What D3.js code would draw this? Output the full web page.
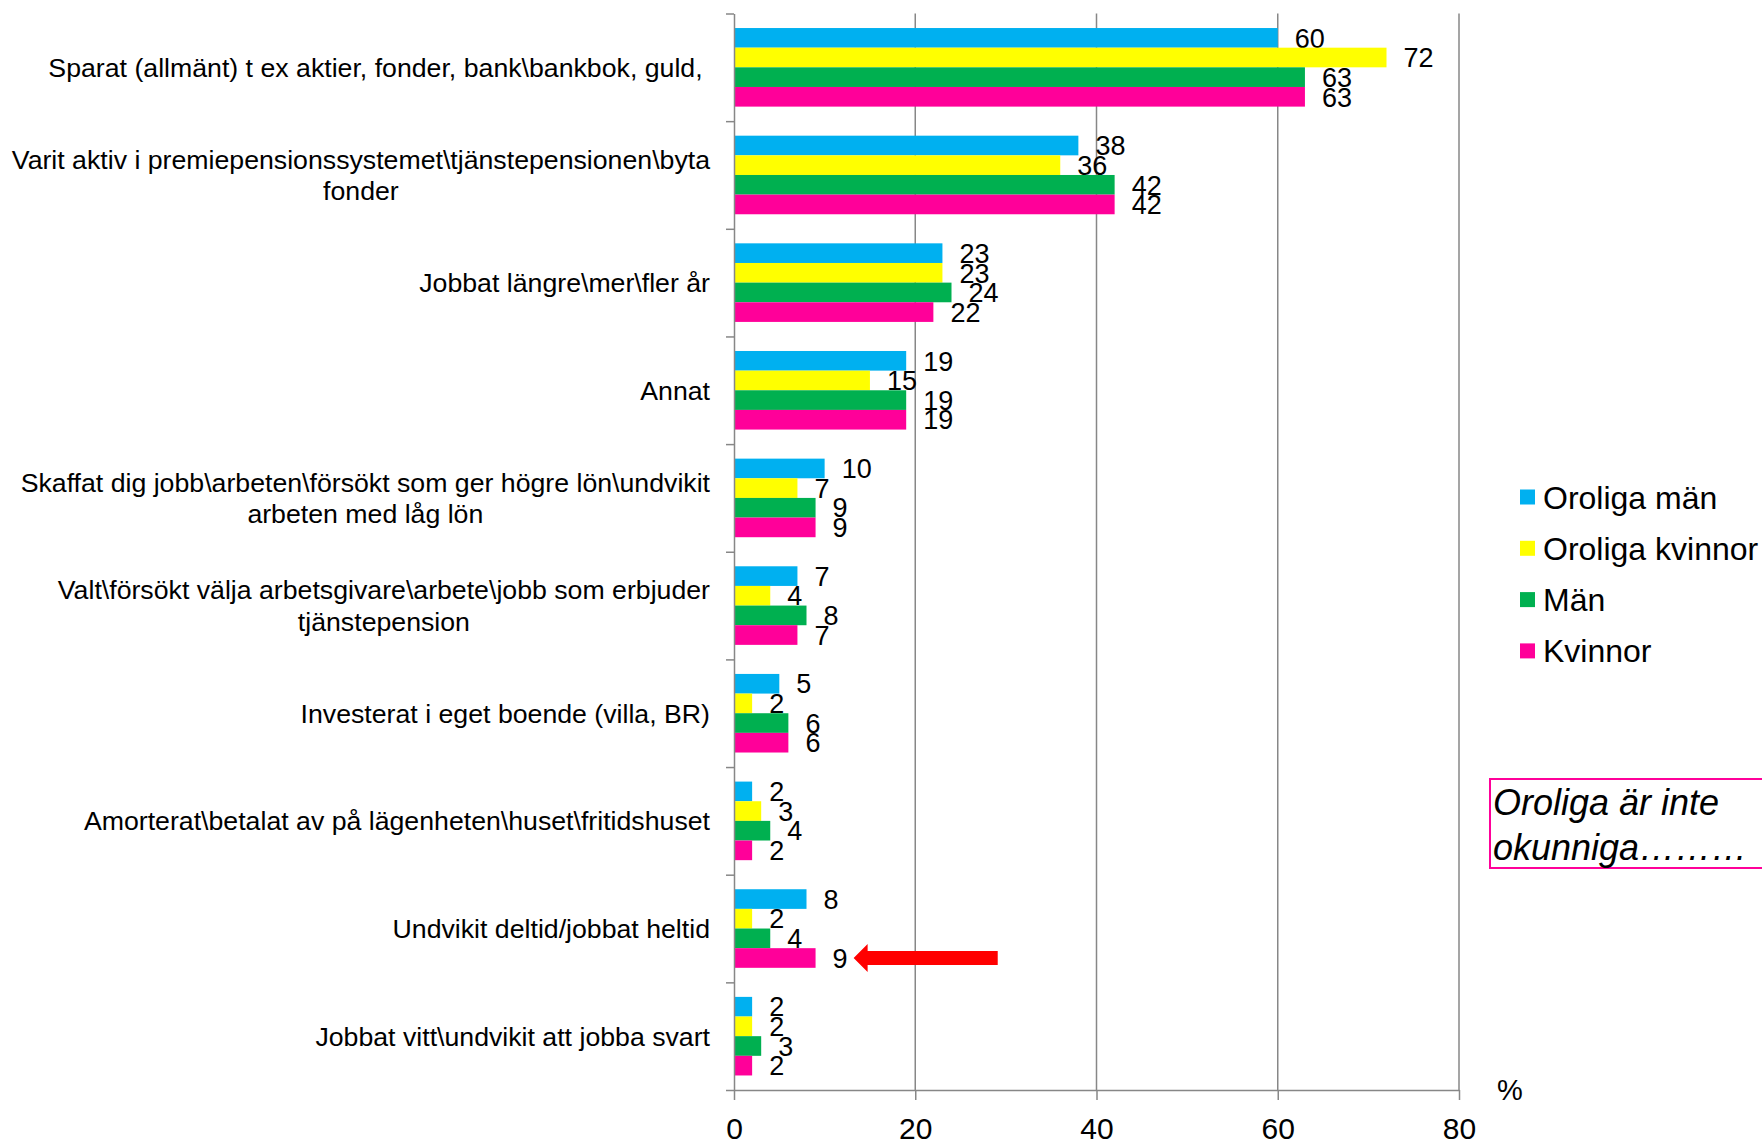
<!DOCTYPE html>
<html>
<head>
<meta charset="utf-8">
<script src="https://cdn.jsdelivr.net/npm/d3@7"></script>
<style>
  body { margin: 0; background: #fff; }
  text { font-family: 'Liberation Sans', Arial, sans-serif; fill: #000; }
</style>
</head>
<body>
<div id="chart"></div>
<script>
(function () {

  // categories (top to bottom), multi-line labels split with '|'
  var categories = [
    'Sparat (allmänt) t ex aktier, fonder, bank\\bankbok, guld,\u00a0',
    'Varit aktiv i premiepensionssystemet\\tjänstepensionen\\byta|fonder',
    'Jobbat längre\\mer\\fler år',
    'Annat',
    'Skaffat dig jobb\\arbeten\\försökt som ger högre lön\\undvikit|arbeten med låg lön',
    'Valt\\försökt välja arbetsgivare\\arbete\\jobb som erbjuder|tjänstepension',
    'Investerat i eget boende (villa, BR)',
    'Amorterat\\betalat av på lägenheten\\huset\\fritidshuset',
    'Undvikit deltid/jobbat heltid',
    'Jobbat vitt\\undvikit att jobba svart'
  ]

  var seriesNames = ['Oroliga män', 'Oroliga kvinnor', 'Män', 'Kvinnor']
  var seriesColors = ['#00B0F0', '#FFFF00', '#00B050', '#FF0099']

  var oroligaMan     = [60, 38, 23, 19, 10, 7, 5, 2, 8, 2]
  var oroligaKvinnor = [72, 36, 23, 15, 7, 4, 2, 3, 2, 2]
  var man            = [63, 42, 24, 19, 9, 8, 6, 4, 4, 3]
  var kvinnor        = [63, 42, 22, 19, 9, 7, 6, 2, 9, 2]

  var xTicks = [0, 20, 40, 60, 80]

  // arrow annotation: points at the 'Kvinnor' bar of 'Undvikit deltid/jobbat heltid'
  var arrowCategory = 8
  var arrowFrom = 29.1, arrowTo = 13.2

  var seriesValues = [oroligaMan, oroligaKvinnor, man, kvinnor]

  var margin = {top: 13.5, right: 303, bottom: 53, left: 734}
  var width  = 1762 - margin.left - margin.right,
      height = 1143 - margin.top - margin.bottom

  var root = d3.select('#chart').append('svg')
    .attr('width', 1762)
    .attr('height', 1143)

  root.append('rect').attr('width', 1762).attr('height', 1143).attr('fill', '#fff')

  var svg = root.append('g')
    .attr('transform', 'translate(' + margin.left + ',' + margin.top + ')')

  var xPositionScale = d3.scaleLinear()
    .domain([0, 80])
    .range([0, width])

  var yPositionScale = d3.scaleBand()
    .domain(d3.range(categories.length))
    .range([0, height])
    .paddingInner(0.27)
    .paddingOuter(0.135)

  var seriesScale = d3.scaleBand()
    .domain(d3.range(seriesNames.length))
    .range([0, yPositionScale.bandwidth()])

  var gridColor = '#878787'

  // gridlines
  svg.selectAll('.grid')
    .data(xTicks.filter(d => d > 0))
    .enter().append('line')
    .attr('class', 'grid')
    .attr('x1', d => xPositionScale(d))
    .attr('x2', d => xPositionScale(d))
    .attr('y1', 0)
    .attr('y2', height)
    .attr('stroke', gridColor)
    .attr('stroke-width', 1.5)

  // bars
  var groups = svg.selectAll('.cat')
    .data(categories)
    .enter().append('g')
    .attr('class', 'cat')
    .attr('transform', (d, i) => 'translate(0,' + yPositionScale(i) + ')')

  groups.each(function (d, ci) {
    var g = d3.select(this)
    seriesValues.forEach(function (vals, si) {
      g.append('rect')
        .attr('x', xPositionScale(0))
        .attr('y', seriesScale(si))
        .attr('width', xPositionScale(vals[ci]) - xPositionScale(0))
        .attr('height', seriesScale.bandwidth())
        .attr('fill', seriesColors[si])
      g.append('text')
        .attr('x', xPositionScale(vals[ci]) + 17)
        .attr('y', seriesScale(si) + seriesScale.bandwidth() / 2)
        .attr('dy', '0.36em')
        .style('font-size', '27px')
        .text(vals[ci])
    })
  })

  // y axis with ticks on band boundaries
  var boundaryScale = d3.scaleLinear().domain([0, categories.length]).range([0, height])
  var yAxis = d3.axisLeft(boundaryScale)
    .tickValues(d3.range(categories.length + 1))
    .tickFormat('')
    .tickSize(8)
    .tickSizeOuter(0)
  svg.append('g')
    .attr('class', 'axis y-axis')
    .call(yAxis)

  // x axis
  var xAxis = d3.axisBottom(xPositionScale)
    .tickValues(xTicks)
    .tickSize(10)
    .tickSizeOuter(0)
    .tickPadding(18)
  svg.append('g')
    .attr('class', 'axis x-axis')
    .attr('transform', 'translate(0,' + height + ')')
    .call(xAxis)

  svg.selectAll('.axis path, .axis line')
    .attr('stroke', gridColor)
    .attr('stroke-width', 1.5)
  svg.selectAll('.x-axis text')
    .style('font-size', '30px')
    .style('font-family', "'Liberation Sans', Arial, sans-serif")
    .attr('fill', '#000')

  // category labels: block right aligned, lines centered
  var labelRight = -24
  groups.each(function (d, ci) {
    var lines = d.split('|')
    var g = d3.select(this)
    var cy = yPositionScale.bandwidth() / 2
    var lh = 31.5
    var texts = lines.map(function (line, li) {
      return g.append('text')
        .attr('y', cy + (li - (lines.length - 1) / 2) * lh)
        .attr('dy', '0.36em')
        .style('font-size', '26.7px')
        .text(line)
    })
    var maxW = d3.max(texts, t => t.node().getComputedTextLength())
    texts.forEach(function (t) {
      t.attr('x', labelRight - maxW / 2).attr('text-anchor', 'middle')
    })
  })

  // '%' unit label
  svg.append('text')
    .attr('x', width + 38)
    .attr('y', height)
    .attr('dy', '0.36em')
    .style('font-size', '29px')
    .text('%')

  // arrow
  var ay = yPositionScale(arrowCategory) + seriesScale(3) + seriesScale.bandwidth() / 2
  var tip = xPositionScale(arrowTo), tail = xPositionScale(arrowFrom)
  var headLen = 14, headHalf = 14, shaftHalf = 7
  svg.append('path')
    .attr('d', 'M' + tip + ',' + ay +
      'L' + (tip + headLen) + ',' + (ay - headHalf) +
      'L' + (tip + headLen) + ',' + (ay - shaftHalf) +
      'L' + tail + ',' + (ay - shaftHalf) +
      'L' + tail + ',' + (ay + shaftHalf) +
      'L' + (tip + headLen) + ',' + (ay + shaftHalf) +
      'L' + (tip + headLen) + ',' + (ay + headHalf) + 'Z')
    .attr('fill', '#FF0000')

  // legend
  var legend = root.append('g')
    .attr('transform', 'translate(1520,497)')
  seriesNames.forEach(function (name, i) {
    var row = legend.append('g').attr('transform', 'translate(0,' + (i * 51.3) + ')')
    row.append('rect')
      .attr('x', 0).attr('y', -7.5)
      .attr('width', 15).attr('height', 15)
      .attr('fill', seriesColors[i])
    row.append('text')
      .attr('x', 23)
      .attr('dy', '0.36em')
      .style('font-size', '32px')
      .text(name)
  })

  // note box
  var note = root.append('g')
  note.append('rect')
    .attr('x', 1490).attr('y', 779)
    .attr('width', 300).attr('height', 89)
    .attr('fill', 'none')
    .attr('stroke', '#FF0099')
    .attr('stroke-width', 2)
  note.append('text')
    .attr('x', 1493).attr('y', 815)
    .style('font-size', '36px')
    .style('font-style', 'italic')
    .text('Oroliga är inte')
  note.append('text')
    .attr('x', 1493).attr('y', 860)
    .style('font-size', '36px')
    .style('font-style', 'italic')
    .text('okunniga………')

})()
</script>
</body>
</html>
